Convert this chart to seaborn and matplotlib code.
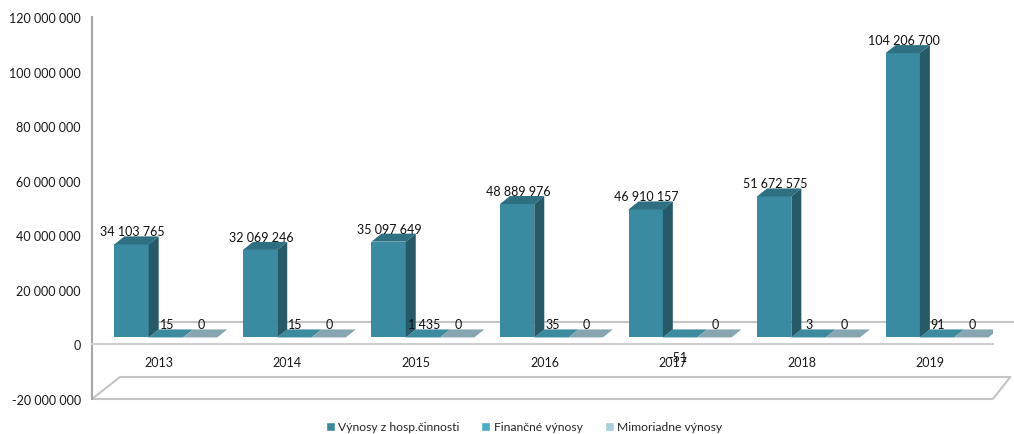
import numpy as np
import pandas as pd
import matplotlib
matplotlib.use("Agg")
import matplotlib.pyplot as plt
import matplotlib.transforms as mtransforms
from matplotlib.patches import Polygon
from matplotlib.ticker import FuncFormatter
import seaborn as sns

# ---------------- data ----------------
years = ["2013", "2014", "2015", "2016", "2017", "2018", "2019"]
series = ["Výnosy z hosp.činnosti", "Finančné výnosy", "Mimoriadne výnosy"]
vynosy_hosp = [34103765, 32069246, 35097649, 48889976, 46910157, 51672575, 104206700]
financne = [15, 15, 1435, 35, -51, 3, 91]
mimoriadne = [0, 0, 0, 0, 0, 0, 0]
colors = ["#3a8ba1", "#4bacc6", "#a9cedc"]

df = pd.DataFrame({"year": years, series[0]: vynosy_hosp,
                   series[1]: financne, series[2]: mimoriadne})
long = df.melt(id_vars="year", var_name="series", value_name="value")

sns.set_style("white")
plt.rcParams["font.family"] = ["Lato", "DejaVu Sans"]

fig = plt.figure(figsize=(10.14, 4.35), dpi=100)
ax = fig.add_axes([92 / 1014, 1 - 400 / 435, (993 - 92) / 1014, (400 - 18) / 435])

sns.barplot(data=long, x="year", y="value", hue="series", order=years,
            hue_order=series, palette=colors, saturation=1, width=0.8,
            errorbar=None, ax=ax)

handles, labels = ax.get_legend_handles_labels()
if ax.get_legend() is not None:
    ax.get_legend().remove()

ax.set_xlim(-0.52, 6.49)
ax.set_ylim(-20e6, 120e6)
ax.set_yticks(np.arange(-20e6, 120e6 + 1, 20e6))
ax.yaxis.set_major_formatter(FuncFormatter(lambda v, p: f"{v:,.0f}".replace(",", " ")))
ax.set_xticks(np.arange(len(years)), years)
ax.set_xlabel("")
ax.set_ylabel("")
ax.tick_params(axis="x", length=0, pad=8.5, labelsize=9, labelcolor="#1a1a1a")
ax.tick_params(axis="y", length=0, pad=8, labelsize=9, labelcolor="#1a1a1a")

for s in ["top", "right"]:
    ax.spines[s].set_visible(False)
ax.spines["bottom"].set_position(("data", 0))
ax.spines["bottom"].set_color("#cfcfcf")
ax.spines["bottom"].set_linewidth(1.5)
ax.spines["left"].set_color("#a6a6a6")
ax.spines["left"].set_linewidth(1.5)

# --------- pseudo 3D ---------
fig.canvas.draw()
p0 = ax.transData.transform((0, 0))
sx = ax.transData.transform((1, 0))[0] - p0[0]
sy = ax.transData.transform((0, 1))[1] - p0[1]
dxd = 10 / sx
dyd = 8 / sy

off = mtransforms.offset_copy(ax.transData, fig=fig, x=7, y=7, units="dots")


def shade(c, f):
    r, g, b = matplotlib.colors.to_rgb(c)
    return (r * f, g * f, b * f)


for k, cont in enumerate(ax.containers):
    vals = [vynosy_hosp, financne, mimoriadne][k]
    for rect, v in zip(cont.patches, vals):
        rect.set_transform(off)
        rect.set_edgecolor("none")
        rect.set_zorder(2)
        base = rect.get_facecolor()
        x0 = rect.get_x()
        w = rect.get_width()
        h = rect.get_y() + rect.get_height() if v >= 0 else 0
        top = Polygon([(x0, h), (x0 + dxd, h + dyd), (x0 + w + dxd, h + dyd), (x0 + w, h)],
                      closed=True, facecolor=shade(base, 0.8), edgecolor="none",
                      transform=off, zorder=2.5 if k == 0 else 2.2)
        side = Polygon([(x0 + w, 0), (x0 + w + dxd, dyd), (x0 + w + dxd, h + dyd), (x0 + w, h)],
                       closed=True, facecolor=shade(base, 0.65), edgecolor="none",
                       transform=off, zorder=2.6 if k == 0 else 2.3)
        ax.add_patch(top)
        ax.add_patch(side)
        lbl = f"{v:,}".replace(",", " ")
        cx = x0 + w / 2
        if v >= 0:
            t = mtransforms.offset_copy(ax.transData, fig=fig, x=8, y=20, units="dots")
        else:
            t = mtransforms.offset_copy(ax.transData, fig=fig, x=5, y=-13, units="dots")
        ax.text(cx, v, lbl, transform=t, ha="center", va="center",
                fontsize=9, color="#111111", zorder=5)

# floor / back-wall edges
line_kw = dict(color="#c4c4c4", lw=1.5, clip_on=False, solid_capstyle="butt")
yb = -20e6
ydep = 22 / sy
ax.plot([-0.52, 6.49], [yb, yb], zorder=1, **line_kw)
ax.plot([-0.52, -0.302, 6.624, 6.49], [yb, yb + ydep, yb + ydep, yb], zorder=1, **line_kw)
ax.plot([-0.302, 6.655], [ydep, ydep], zorder=1, **line_kw)

fig.legend(handles, labels, loc="center", bbox_to_anchor=(524 / 1014, 1 - 428 / 435),
           ncol=3, frameon=False, fontsize=8.7, handlelength=0.75, handleheight=0.75,
           handletextpad=0.3, columnspacing=1.8, labelcolor="#262626")

fig.savefig("out.png", dpi=100)
